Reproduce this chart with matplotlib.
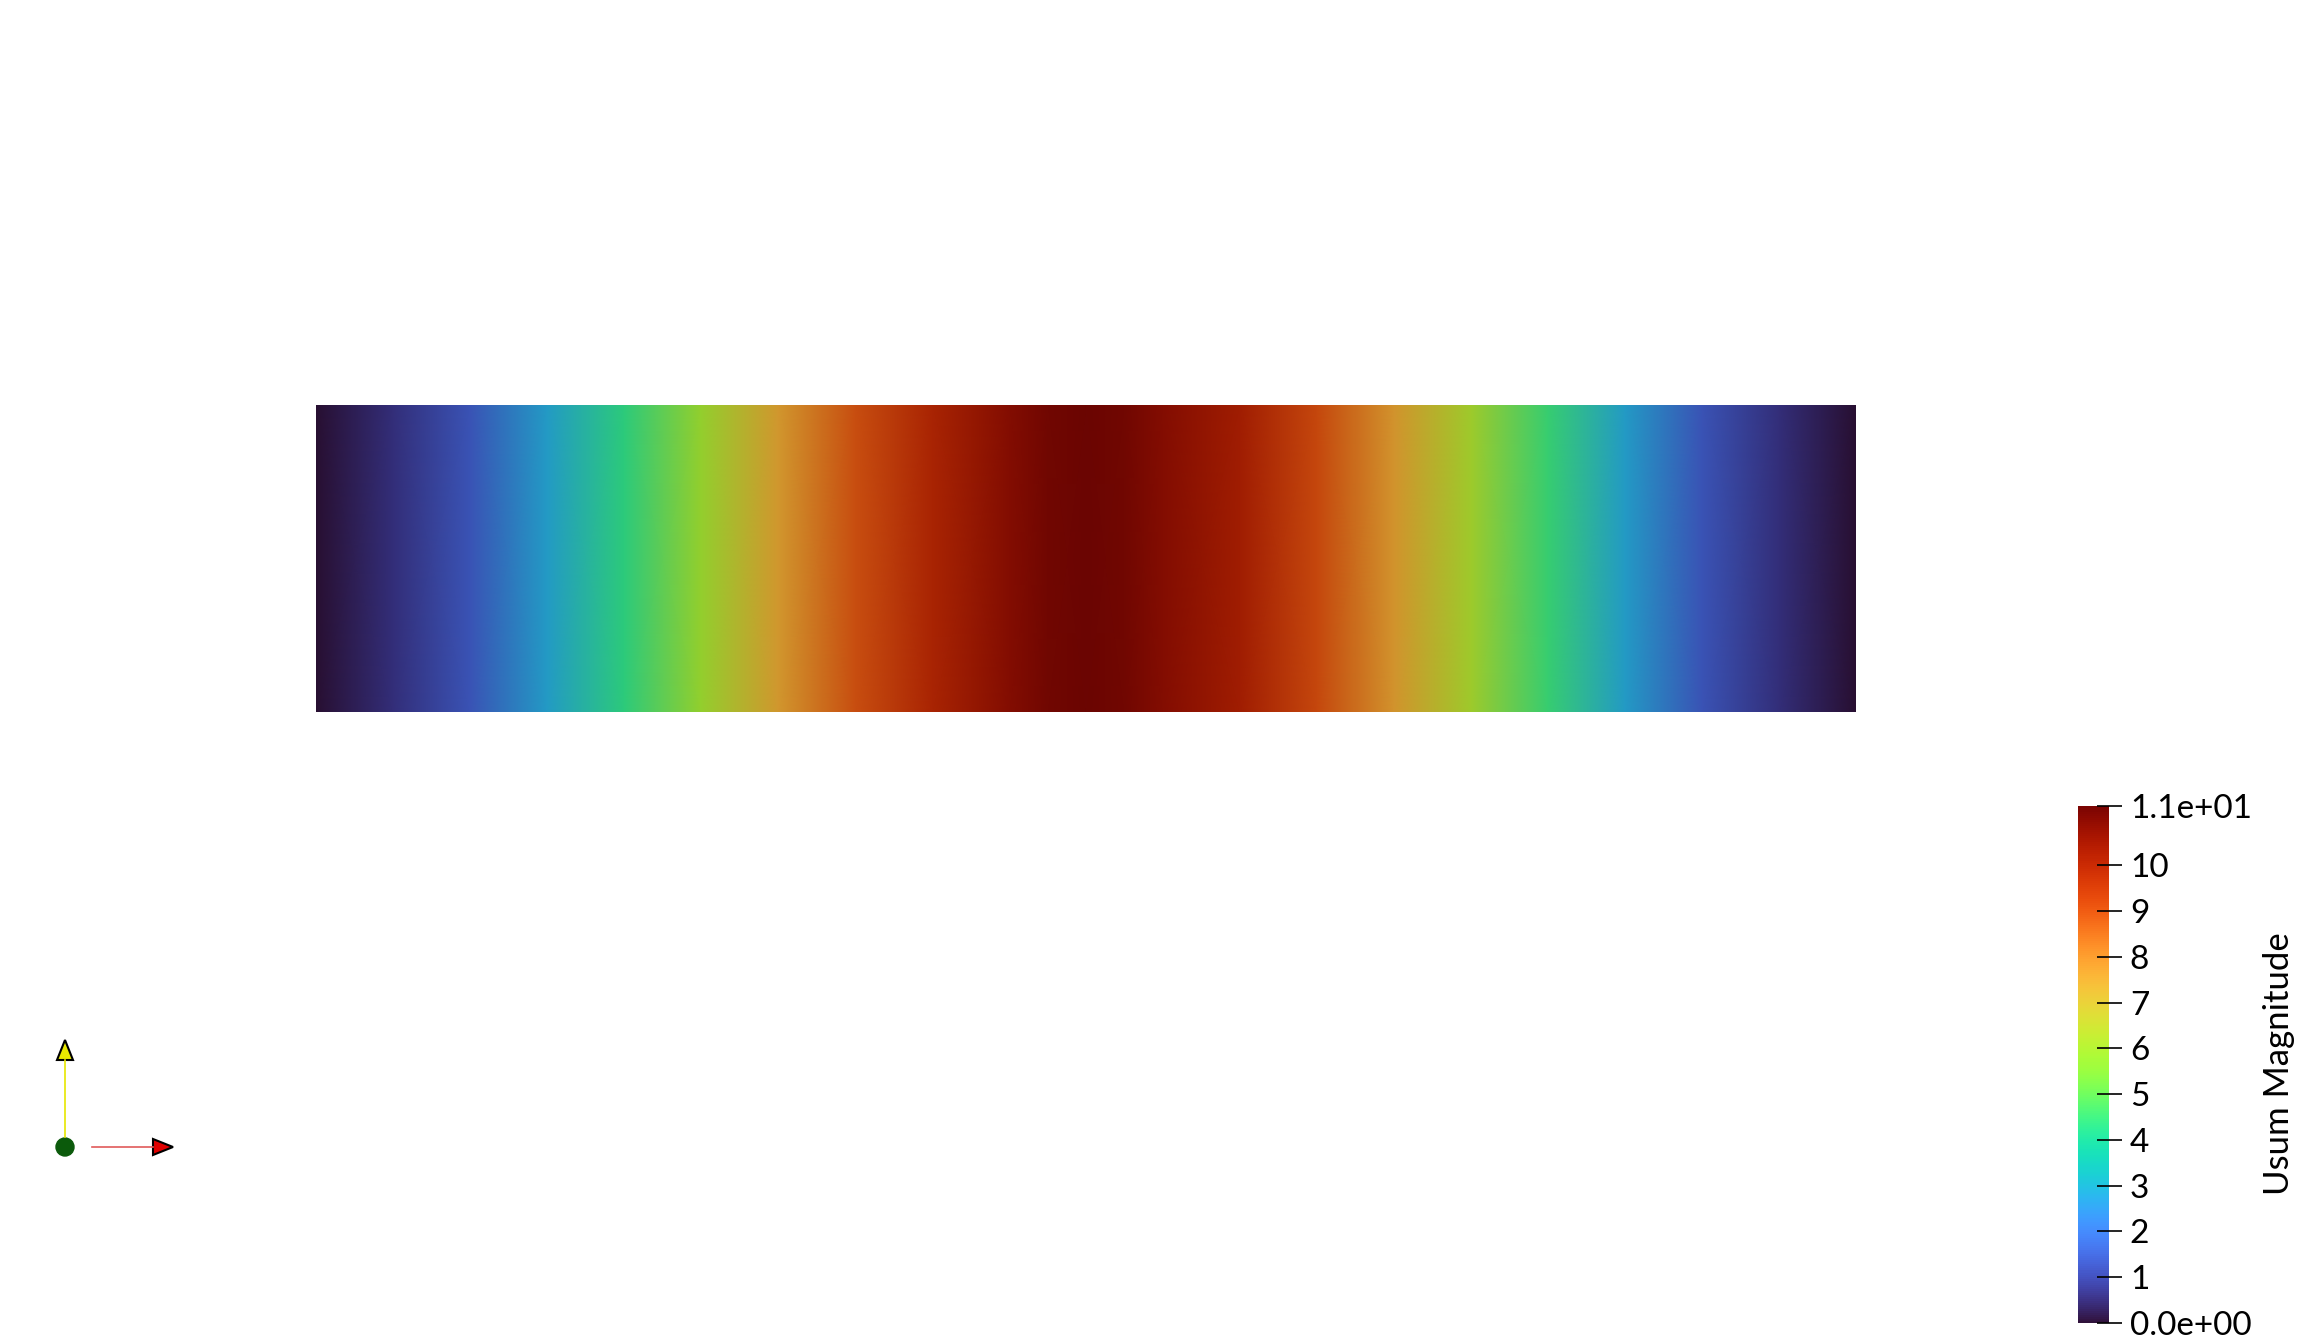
import numpy as np
import matplotlib
matplotlib.use('Agg')
import matplotlib.pyplot as plt
from matplotlib.colors import Normalize, ListedColormap
from matplotlib.patches import Polygon, Circle
from matplotlib.cm import ScalarMappable

plt.rcParams['font.family'] = ['Lato', 'DejaVu Sans']

# 沿长度方向的采样位置（单位：长度 5，高度 1）
x_pos = [0.0, 0.25, 0.5, 0.75, 1.0, 1.25, 1.5, 1.75, 2.0, 2.25, 2.375, 2.5, 2.625,
         2.75, 3.0, 3.25, 3.5, 3.75, 4.0, 4.25, 4.5, 4.75, 5.0]
# 读自图像的 Usum Magnitude
usum = [0.0, 0.6, 1.3, 2.8, 4.3, 5.9, 7.6, 9.0, 10.0, 10.8, 11.1, 11.2, 11.1,
        10.8, 10.2, 9.1, 7.7, 6.1, 4.5, 2.8, 1.3, 0.6, 0.0]
y_pos = [0.0, 1.0]

vmin, vmax = 0.0, 11.3
cbar_ticks = [0, 1, 2, 3, 4, 5, 6, 7, 8, 9, 10]

W, H = 2298, 1341
fig = plt.figure(figsize=(W / 100, H / 100), dpi=100)

# 模型视图带光照，颜色略暗
base = plt.get_cmap('turbo')
shaded = ListedColormap(base(np.linspace(0, 1, 256))[:, :3] * 0.83)
norm = Normalize(vmin, vmax)

ax = fig.add_axes([316 / W, 1 - 712 / H, 1540 / W, 307 / H])
X, Y = np.meshgrid(x_pos, y_pos)
C = np.vstack([usum, usum])
ax.pcolormesh(X, Y, C, cmap=shaded, norm=norm, shading='gouraud')
ax.set_xlim(0, 5)
ax.set_ylim(0, 1)
ax.axis('off')

# 色标
cax = fig.add_axes([2078 / W, 1 - 1323 / H, 31 / W, 517 / H])
sm = ScalarMappable(norm=norm, cmap=base)
cb = fig.colorbar(sm, cax=cax)
cb.outline.set_visible(False)
ticks = [vmin] + cbar_ticks[1:] + [vmax]
labels = ['0.0e+00'] + [str(t) for t in cbar_ticks[1:]] + ['1.1e+01']
cb.set_ticks(ticks)
cb.set_ticklabels(labels)
cax.tick_params(direction='inout', length=18, width=1.2, pad=6, labelsize=24, colors='black')
fig.text(2279 / W, 1 - 1064 / H, 'Usum Magnitude', rotation=90, fontsize=25,
         ha='center', va='center')

# 坐标轴方向图标
ov = fig.add_axes([0, 0, 1, 1])
ov.set_xlim(0, W)
ov.set_ylim(H, 0)
ov.axis('off')
ov.plot([65, 65], [1137, 1060], color='#e6e600', lw=1.2)
ov.add_patch(Polygon([[57, 1060], [73, 1060], [65, 1040]], closed=True,
                     facecolor='#e8e800', edgecolor='black', lw=1.5))
ov.plot([92, 153], [1147, 1147], color='#e05a5a', lw=1.2)
ov.add_patch(Polygon([[153, 1139], [153, 1155], [173, 1147]], closed=True,
                     facecolor='#e00000', edgecolor='black', lw=1.5))
ov.add_patch(Circle((65, 1147), 9, facecolor='#0b5a0b', edgecolor='#0b5a0b'))

fig.savefig('out.png', dpi=100)
